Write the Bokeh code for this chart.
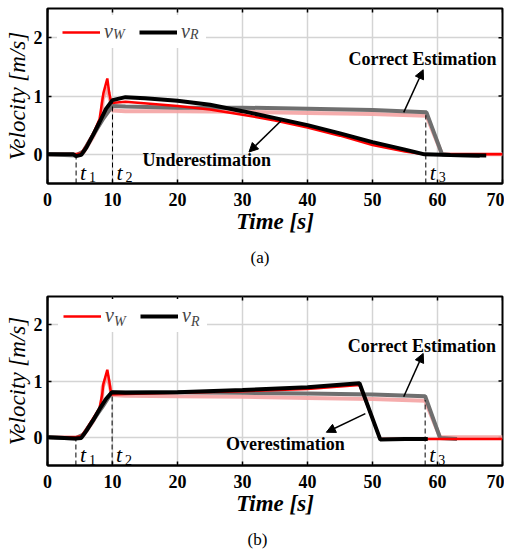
import math
from bokeh.plotting import figure
from bokeh.models import (Range1d, FixedTicker, Legend, LegendItem,
                          Arrow, NormalHead, Title)
from bokeh.layouts import column
from bokeh.embed import file_html
from bokeh.resources import INLINE
from bokeh.core.properties import value

SERIF = "Liberation Serif"

x_ticks = [0, 10, 20, 30, 40, 50, 60, 70]
y_ticks = [0, 1, 2]
x_lim = (0, 70)
y_lim = (-0.5, 2.5)

# ---------------- panel (a) ----------------
a_cw_t = [0, 4.4, 5.5, 7.0, 8.3, 8.5, 9.2, 9.6, 10.0, 12, 20, 30, 40, 50, 58.3, 60.7, 70]
a_cw_v = [0, 0, 0.03, 0.30, 0.60, 0.95, 1.15, 0.95, 0.75, 0.74, 0.74, 0.73, 0.71, 0.69, 0.66, 0.0, 0.0]
a_cr_t = [0, 4.4, 5.5, 7.0, 8.5, 10.0, 12, 20, 30, 40, 50, 58.3, 60.7, 62, 66.5]
a_cr_v = [0, -0.02, 0.05, 0.33, 0.60, 0.83, 0.82, 0.80, 0.80, 0.78, 0.76, 0.72, 0.0, -0.01, -0.03]
a_vw_t = [0, 4.4, 5.2, 6.0, 7.0, 8.0, 8.4, 8.6, 9.2, 9.5, 9.8, 12, 20, 25, 30, 35, 40, 45, 50, 55, 58, 70]
a_vw_v = [0, 0, 0.02, 0.15, 0.35, 0.60, 0.90, 1.05, 1.30, 1.05, 0.88, 0.90, 0.83, 0.77, 0.68, 0.58, 0.46, 0.32, 0.16, 0.05, 0.0, 0.0]
a_vr_t = [0, 4.0, 4.4, 5.2, 6.0, 7.0, 8.0, 9.0, 10, 12, 15, 20, 25, 30, 35, 40, 45, 50, 55, 58, 62, 67.5]
a_vr_v = [0, 0, -0.03, -0.01, 0.12, 0.33, 0.55, 0.78, 0.93, 0.98, 0.96, 0.92, 0.85, 0.74, 0.62, 0.50, 0.36, 0.21, 0.08, 0.0, -0.01, -0.02]
a_mark_t = [4.4, 10.0, 58.2]
a_mark_top = [0.0, 0.88, 0.67]
a_note_text = ["Correct Estimation", "Underestimation"]
a_note_x = [57.7, 24.5]
a_note_y = [1.63, -0.09]
a_arrow_x0 = [54.8, 35.9]
a_arrow_y0 = [0.72, 0.57]
a_arrow_x1 = [57.8, 31.0]
a_arrow_y1 = [1.45, 0.04]

# ---------------- panel (b) ----------------
b_cw_t = [0, 4.3, 5.5, 7.0, 8.3, 8.5, 9.2, 9.6, 9.9, 12, 20, 30, 40, 50, 58.1, 60.4, 70]
b_cw_v = [0, 0, 0.03, 0.28, 0.55, 0.90, 1.10, 0.90, 0.75, 0.74, 0.73, 0.72, 0.70, 0.68, 0.65, 0.0, 0.0]
b_cr_t = [0, 4.3, 5.5, 7.0, 8.5, 9.9, 12, 20, 30, 40, 50, 58.1, 60.4, 63]
b_cr_v = [0, -0.02, 0.05, 0.30, 0.55, 0.80, 0.80, 0.80, 0.79, 0.78, 0.76, 0.73, -0.01, -0.03]
b_vw_t = [0, 4.3, 5.2, 6.0, 7.0, 8.0, 8.4, 8.6, 9.2, 9.5, 9.8, 12, 20, 30, 40, 48, 51.2, 58, 70]
b_vw_v = [0, 0, 0.02, 0.15, 0.33, 0.52, 0.75, 0.95, 1.20, 1.00, 0.76, 0.77, 0.79, 0.82, 0.86, 0.93, -0.03, -0.03, -0.03]
b_vr_t = [0, 4.3, 5.2, 6.0, 7.0, 8.0, 9.0, 9.9, 12, 20, 30, 40, 48, 51.2, 55, 58.5]
b_vr_v = [0, -0.02, -0.01, 0.12, 0.30, 0.50, 0.68, 0.80, 0.79, 0.80, 0.84, 0.89, 0.96, -0.04, -0.03, -0.03]
b_mark_t = [4.37, 9.94, 58.1]
b_mark_top = [0.0, 0.81, 0.66]
b_note_text = ["Correct Estimation", "Overestimation"]
b_note_x = [57.6, 36.6]
b_note_y = [1.62, -0.11]
b_arrow_x0 = [54.8, 48.9]
b_arrow_y0 = [0.72, 0.42]
b_arrow_x1 = [57.8, 42.9]
b_arrow_y1 = [1.49, 0.09]

t_sub = ["1", "2", "3"]
legend_sub = ["W", "R"]


def build(cw_t, cw_v, cr_t, cr_v, vw_t, vw_v, vr_t, vr_v, mark_t, mark_top,
          note_text, note_x, note_y, ax0, ay0, ax1, ay1, caption,
          width, height, mbl, mbr, mbt, mbb, cap_offset, cap_standoff,
          legend_loc, sub_loc, xlab_standoff):
    p = figure(width=width, height=height, x_range=Range1d(*x_lim), y_range=Range1d(*y_lim),
               output_backend="svg", toolbar_location=None,
               min_border_left=mbl, min_border_right=mbr, min_border_top=mbt, min_border_bottom=mbb)
    p.background_fill_color = "white"
    p.border_fill_color = "white"
    p.outline_line_color = "black"
    p.outline_line_width = 2

    # axes
    p.xaxis.ticker = FixedTicker(ticks=x_ticks)
    p.yaxis.ticker = FixedTicker(ticks=y_ticks)
    for ax in (p.xaxis[0], p.yaxis[0]):
        ax.axis_line_width = 2
        ax.axis_line_color = "black"
        ax.major_tick_in = 4
        ax.major_tick_out = 0
        ax.major_tick_line_width = 1.5
        ax.minor_tick_line_color = None
        ax.major_label_text_font = SERIF
        ax.major_label_text_font_style = "bold"
        ax.major_label_text_font_size = "18px"
        ax.major_label_text_color = "black"
        ax.axis_label_text_font = SERIF
        ax.axis_label_text_color = "black"
        ax.axis_label_text_font_size = "23px"
    p.xaxis.axis_label = "Time [s]"
    p.xaxis.axis_label_text_font_style = "bold italic"
    p.xaxis.major_label_standoff = xlab_standoff
    p.xaxis.axis_label_standoff = 0
    p.yaxis.axis_label = "Velocity [m/s]"
    p.yaxis.axis_label_text_font_style = "italic"
    p.yaxis.major_label_standoff = 5
    p.yaxis.axis_label_standoff = 1

    p.grid.grid_line_color = "#d4d4d4"
    p.grid.grid_line_width = 1.5
    p.xgrid.ticker = FixedTicker(ticks=x_ticks)
    p.ygrid.ticker = FixedTicker(ticks=y_ticks)

    # inward ticks on the top and right edges of the box
    p.scatter(x=x_ticks, y=[y_lim[1]] * len(x_ticks), marker="dash", size=8, angle=math.pi / 2,
              line_color="black", line_width=1.5)
    p.scatter(x=[x_lim[1]] * len(y_ticks), y=y_ticks, marker="dash", size=8,
              line_color="black", line_width=1.5)

    # curves
    p.line(cw_t, cw_v, line_color="#f4a3a3", line_width=4, line_alpha=0.9)
    p.line(cr_t, cr_v, line_color="#6f6f6f", line_width=4)
    r_red = p.line(vw_t, vw_v, line_color="#ff0000", line_width=2.5)
    r_blk = p.line(vr_t, vr_v, line_color="#000000", line_width=4)

    # time markers
    p.segment(x0=mark_t, y0=[y_lim[0]] * len(mark_t), x1=mark_t, y1=mark_top,
              line_color="black", line_width=1, line_dash="5 3")
    p.text(x=mark_t, y=[-0.31] * len(mark_t), text=["t"] * len(mark_t),
           text_font=value(SERIF), text_font_style="italic", text_font_size="22px",
           text_align="left", text_baseline="middle", x_offset=4, text_color="black")
    p.text(x=mark_t, y=[-0.31] * len(mark_t), text=t_sub,
           text_font=value(SERIF), text_font_size="14px",
           text_align="left", text_baseline="middle", x_offset=13, y_offset=5, text_color="black")

    # annotations
    p.text(x=note_x, y=note_y, text=note_text, text_font=value(SERIF), text_font_style="bold",
           text_font_size="18px", text_align="center", text_baseline="middle", text_color="black")
    for x0, y0, x1, y1 in zip(ax0, ay0, ax1, ay1):
        p.add_layout(Arrow(x_start=x0, y_start=y0, x_end=x1, y_end=y1, line_width=1.5,
                           line_color="black",
                           end=NormalHead(size=9, fill_color="black", line_color="black")))

    # legend
    legend = Legend(items=[LegendItem(label="v", renderers=[r_red]),
                           LegendItem(label="v", renderers=[r_blk])],
                    orientation="horizontal", location=legend_loc,
                    margin=0, padding=5, spacing=15, glyph_width=38, glyph_height=16,
                    label_height=16, label_standoff=4,
                    label_text_font=SERIF, label_text_font_style="italic",
                    label_text_font_size="20px", background_fill_color="white",
                    background_fill_alpha=1.0, border_line_alpha=0)
    p.add_layout(legend)
    # subscripts of the legend labels (a second, transparent legend drawn on top)
    sub_legend = Legend(items=[LegendItem(label=s, renderers=[r]) for s, r in
                               zip(legend_sub, [r_red, r_blk])],
                        orientation="horizontal", location=sub_loc,
                        margin=0, padding=0, spacing=57, glyph_width=0, glyph_height=16,
                        label_height=16, label_width=20, label_standoff=0,
                        label_text_font=SERIF, label_text_font_style="italic",
                        label_text_font_size="14px", background_fill_alpha=0,
                        border_line_alpha=0)
    p.add_layout(sub_legend)

    p.add_layout(Title(text=caption, align="left", offset=cap_offset, text_font=SERIF,
                       text_font_style="normal", text_font_size="17px", text_color="black",
                       standoff=cap_standoff), "below")
    return p


pa = build(a_cw_t, a_cw_v, a_cr_t, a_cr_v, a_vw_t, a_vw_v, a_vr_t, a_vr_v, a_mark_t, a_mark_top,
           a_note_text, a_note_x, a_note_y, a_arrow_x0, a_arrow_y0, a_arrow_x1, a_arrow_y1, "(a)",
           width=504, height=282, mbl=43, mbr=2, mbt=8, mbb=99, cap_offset=203, cap_standoff=19,
           legend_loc=(10, 135), sub_loc=(66, 140), xlab_standoff=9)
pb = build(b_cw_t, b_cw_v, b_cr_t, b_cr_v, b_vw_t, b_vw_v, b_vr_t, b_vr_v, b_mark_t, b_mark_top,
           b_note_text, b_note_x, b_note_y, b_arrow_x0, b_arrow_y0, b_arrow_x1, b_arrow_y1, "(b)",
           width=504, height=275, mbl=47, mbr=1, mbt=14, mbb=89, cap_offset=200, cap_standoff=18,
           legend_loc=(11, 133), sub_loc=(67, 135), xlab_standoff=9)

layout = column(pa, pb, spacing=0)
open("out.html", "w").write(file_html(layout, INLINE))
